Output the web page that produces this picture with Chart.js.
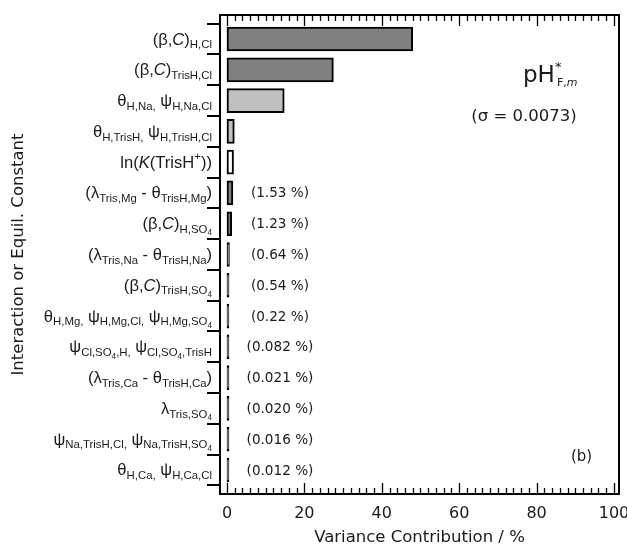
<!DOCTYPE html>
<html>
<head>
<meta charset="utf-8">
<script src="https://cdn.jsdelivr.net/npm/chart.js@4.4.1/dist/chart.umd.min.js"></script>
<style>
  html, body { margin: 0; padding: 0; background: #ffffff; }
  #wrap { width: 627px; height: 551px; }
</style>
</head>
<body>
<div id="wrap"><canvas id="c" width="627" height="551"></canvas></div>
<script>
// Markup: _{...} subscript, ^{...} superscript, ~{...} italic
const CATEGORIES = [
  "(β,~{C})_{H,Cl}",
  "(β,~{C})_{TrisH,Cl}",
  "θ_{H,Na,} ψ_{H,Na,Cl}",
  "θ_{H,TrisH,} ψ_{H,TrisH,Cl}",
  "ln(~{K}(TrisH^{+}))",
  "(λ_{Tris,Mg} - θ_{TrisH,Mg})",
  "(β,~{C})_{H,SO_{4}}",
  "(λ_{Tris,Na} - θ_{TrisH,Na})",
  "(β,~{C})_{TrisH,SO_{4}}",
  "θ_{H,Mg,} ψ_{H,Mg,Cl,} ψ_{H,Mg,SO_{4}}",
  "ψ_{Cl,SO_{4},H,} ψ_{Cl,SO_{4},TrisH}",
  "(λ_{Tris,Ca} - θ_{TrisH,Ca})",
  "λ_{Tris,SO_{4}}",
  "ψ_{Na,TrisH,Cl,} ψ_{Na,TrisH,SO_{4}}",
  "θ_{H,Ca,} ψ_{H,Ca,Cl}"
];
const VALUES = [48.0, 27.5, 14.8, 1.9, 1.7, 1.53, 1.23, 0.64, 0.54, 0.22, 0.082, 0.021, 0.020, 0.016, 0.012];
const PCT_LABELS = ["", "", "", "", "", "(1.53 %)", "(1.23 %)", "(0.64 %)", "(0.54 %)", "(0.22 %)",
                    "(0.082 %)", "(0.021 %)", "(0.020 %)", "(0.016 %)", "(0.012 %)"];
const X_TICKS = [0, 20, 40, 60, 80, 100];
const FILLS = ["#808080", "#808080", "#c0c0c0", "#c0c0c0", "#ffffff", "#808080", "#808080",
               "#808080", "#808080", "#808080", "#808080", "#808080", "#808080", "#808080", "#808080"];

const SIZES = [16.6, 11.4, 8.2];
function parseRich(s) {
  const runs = [];
  let i = 0;
  function walk(level, shift, italic) {
    let buf = '';
    const flush = () => { if (buf) { runs.push({ t: buf, level, shift, italic }); buf = ''; } };
    while (i < s.length) {
      const c = s[i];
      if (c === '}') { i++; flush(); return; }
      if ((c === '_' || c === '^' || c === '~') && s[i + 1] === '{') {
        flush(); i += 2;
        const size = SIZES[level];
        if (c === '_') walk(Math.min(level + 1, 2), shift + size * 0.22, italic);
        else if (c === '^') walk(Math.min(level + 1, 2), shift - size * 0.45, italic);
        else walk(level, shift, true);
        continue;
      }
      buf += c; i++;
    }
    flush();
  }
  walk(0, 0, false);
  return runs;
}
function fontFor(r) {
  return (r.italic ? 'italic ' : '') + SIZES[r.level] + 'px "Liberation Sans", Arial, sans-serif';
}
function drawRich(ctx, str, xRight, baseY) {
  const runs = parseRich(str);
  let total = 0;
  runs.forEach(r => { ctx.font = fontFor(r); r.w = ctx.measureText(r.t).width; total += r.w; });
  let x = xRight - total;
  ctx.textAlign = 'left';
  ctx.textBaseline = 'alphabetic';
  runs.forEach(r => { ctx.font = fontFor(r); ctx.fillText(r.t, x, baseY + r.shift); x += r.w; });
}

const decor = {
  id: 'decor',
  afterDatasetsDraw(chart) {
    const { ctx, chartArea: a, scales: { x, y } } = chart;
    ctx.save();
    // inner tick marks (top and bottom)
    ctx.strokeStyle = '#000';
    ctx.lineWidth = 1.3;
    ctx.beginPath();
    for (let v = 0; v <= 100; v += 2) {
      const px = Math.round(x.getPixelForValue(v)) + 0.5;
      const L = (v % 20 === 0) ? 11 : 6;
      ctx.moveTo(px, a.bottom); ctx.lineTo(px, a.bottom - L);
      ctx.moveTo(px, a.top); ctx.lineTo(px, a.top + L);
    }
    ctx.stroke();
    // frame
    ctx.lineWidth = 2;
    ctx.strokeRect(a.left, a.top, a.width, a.height);

    // category labels
    ctx.fillStyle = '#1a1a1a';
    CATEGORIES.forEach((c, i) => {
      const py = y.getPixelForValue(i);
      drawRich(ctx, c, 212, py + 5.5);
    });

    // percentage annotations
    ctx.font = '13.6px "DejaVu Sans", sans-serif';
    ctx.textAlign = 'center';
    ctx.textBaseline = 'middle';
    const px0 = x.getPixelForValue(0) + 53;
    PCT_LABELS.forEach((t, i) => {
      if (t) ctx.fillText(t, px0, y.getPixelForValue(i) + 1);
    });

    // pH*_{F,m}
    ctx.textAlign = 'left';
    ctx.textBaseline = 'alphabetic';
    ctx.font = '23px "DejaVu Sans", sans-serif';
    ctx.fillText('pH', 523, 82);
    ctx.font = '13px "DejaVu Sans", sans-serif';
    ctx.fillText('*', 555, 71);
    ctx.font = '11px "DejaVu Sans", sans-serif';
    ctx.fillText('F,', 557, 86);
    const wF = ctx.measureText('F,').width;
    ctx.font = 'italic 11px "DejaVu Sans", sans-serif';
    ctx.fillText('m', 557 + wF, 86);

    ctx.font = '16.5px "DejaVu Sans", sans-serif';
    ctx.textAlign = 'center';
    ctx.textBaseline = 'middle';
    ctx.fillText('(σ = 0.0073)', 524, 117);

    ctx.font = '15px "DejaVu Sans", sans-serif';
    ctx.fillText('(b)', 581.5, 457.5);
    ctx.restore();
  }
};

const BOUNDS = CATEGORIES.map((_, i) => i - 0.5).concat([CATEGORIES.length - 0.5]);

new Chart(document.getElementById('c'), {
  type: 'bar',
  data: {
    datasets: [{
      data: VALUES.map((v, i) => ({ x: v, y: i })),
      backgroundColor: FILLS,
      borderColor: '#000000',
      borderWidth: 2,
      borderSkipped: false,
      barThickness: 24,
      minBarLength: 2
    }]
  },
  options: {
    indexAxis: 'y',
    responsive: false,
    animation: false,
    devicePixelRatio: 1,
    layout: { padding: { top: 15, right: 8, left: 0, bottom: 0 } },
    plugins: { legend: { display: false }, tooltip: { enabled: false } },
    scales: {
      x: {
        type: 'linear',
        position: 'bottom',
        min: -1.8,
        max: 101.3,
        afterBuildTicks: s => { s.ticks = X_TICKS.map(v => ({ value: v })); },
        grid: { display: false },
        border: { display: false },
        ticks: {
          font: { family: 'DejaVu Sans', size: 16 },
          color: '#1a1a1a',
          padding: 2,
          maxRotation: 0,
          autoSkip: false
        },
        title: {
          display: true,
          text: 'Variance Contribution / %',
          font: { family: 'DejaVu Sans', size: 16.5 },
          color: '#1a1a1a',
          padding: { top: 0, bottom: 3 }
        },
        afterFit: s => { s.height = 57; s.paddingLeft = 0; s.paddingRight = 0; }
      },
      y: {
        type: 'linear',
        reverse: true,
        offset: false,
        min: -0.78,
        max: 14.78,
        afterBuildTicks: s => { s.ticks = BOUNDS.map(v => ({ value: v })); },
        ticks: { display: false },
        grid: { offset: false, drawOnChartArea: false, drawTicks: true, tickLength: 13, color: '#000000', lineWidth: 2 },
        border: { display: false },
        title: {
          display: true,
          text: 'Interaction or Equil. Constant',
          font: { family: 'DejaVu Sans', size: 16.5 },
          color: '#1a1a1a',
          padding: { top: 9, bottom: 0 }
        },
        afterFit: s => { s.width = 220; s.paddingTop = 0; s.paddingBottom = 0; }
      }
    }
  },
  plugins: [decor]
});
</script>
</body>
</html>
